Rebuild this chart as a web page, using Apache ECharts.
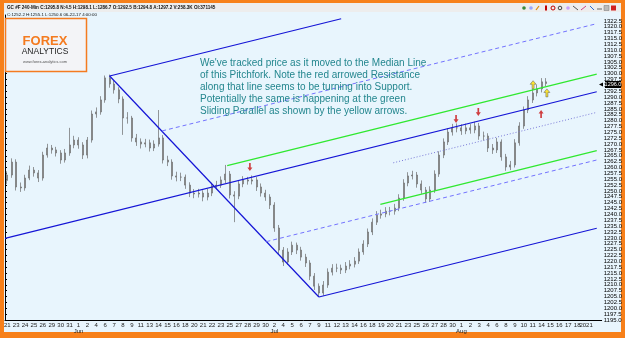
<!DOCTYPE html>
<html>
<head>
<meta charset="utf-8">
<script src="https://cdn.jsdelivr.net/npm/echarts@6/dist/echarts.min.js"></script>
<style>
  html, body { margin: 0; padding: 0; background: #f7801a; }
  #chart { width: 625px; height: 338px; }
</style>
</head>
<body>
<div id="chart"></div>
<script>
// trading-day labels on the x axis (two slots per day)
const dayLabels = ['21','23','24','25','26','29','30','31',
  '1','2','4','6','7','8','9','11','13','14','15','16','18','20','21','22','23','25','27','28','29','30',
  '2','4','5','6','7','9','11','12','13','14','16','18','19','20','21','23','25','26','27','28','30',
  '1','2','3','4','6','8','9','10','11','14','15','16','17','18','2021',''];
const monthMarks = { 8: 'Jun', 30: 'Jul', 51: 'Aug' };
const slotsPerDay = 2;

// price bars
const firstOpen = 1254.5;
const closes = [1256.8, 1262.3, 1251.7, 1251.3, 1255.5, 1258.9, 1257.7, 1255.5, 1265.3, 1268.3,
  1267.5, 1266.2, 1263.2, 1266.2, 1269.6, 1271.7, 1269.6, 1265.3, 1271.7, 1282.8,
  1283.7, 1288.8, 1298.2, 1295.6, 1293.1, 1289.2, 1281.1, 1281.1, 1272.6, 1270.9,
  1270.0, 1270.5, 1268.3, 1270.0, 1272.6, 1263.2, 1262.3, 1256.4, 1255.9, 1255.9,
  1252.5, 1249.1, 1248.7, 1249.1, 1247.4, 1249.1, 1252.1, 1252.5, 1254.7, 1257.2,
  1248.3, 1247.8, 1253.0, 1254.7, 1254.2, 1254.7, 1251.7, 1249.1, 1247.4, 1244.0,
  1234.2, 1224.8, 1219.7, 1224.0, 1226.9, 1224.8, 1221.8, 1219.3, 1213.7, 1209.4,
  1206.5, 1209.9, 1215.4, 1217.1, 1217.1, 1216.3, 1218.0, 1218.8, 1220.1, 1224.0,
  1227.4, 1232.5, 1236.7, 1239.7, 1240.2, 1241.4, 1241.4, 1242.7, 1247.0, 1253.4,
  1256.4, 1256.8, 1253.0, 1250.4, 1246.6, 1250.4, 1257.2, 1265.3, 1270.9, 1275.1,
  1276.9, 1276.9, 1275.6, 1276.9, 1276.0, 1277.7, 1273.4, 1273.4, 1268.3, 1267.5,
  1270.9, 1264.5, 1260.2, 1261.1, 1270.5, 1277.7, 1284.5, 1288.8, 1291.8, 1293.5,
  1296.5, 1295.8];
const highs = [1258.4, 1263.9, 1263.5, 1253.6, 1256.9, 1260.8, 1260.2, 1258.9, 1266.7, 1270.1,
  1269.6, 1268.8, 1267.4, 1267.9, 1276.9, 1273.5, 1272.9, 1270.8, 1273.0, 1284.3,
  1285.6, 1290.4, 1299.2, 1299.6, 1297.0, 1294.2, 1290.3, 1283.6, 1282.0, 1274.3,
  1272.4, 1272.2, 1271.9, 1271.6, 1284.5, 1273.8, 1265.0, 1263.5, 1258.2, 1257.8,
  1257.0, 1253.7, 1250.8, 1250.9, 1250.3, 1250.9, 1253.5, 1254.3, 1256.2, 1261.1,
  1258.5, 1249.9, 1254.6, 1256.3, 1256.0, 1256.6, 1255.9, 1253.2, 1250.5, 1248.6,
  1245.2, 1235.5, 1226.1, 1225.6, 1228.4, 1228.0, 1226.2, 1223.2, 1220.5, 1215.0,
  1210.6, 1211.6, 1217.0, 1218.8, 1219.0, 1218.6, 1219.7, 1220.5, 1221.8, 1225.5,
  1229.0, 1234.0, 1238.3, 1241.4, 1242.0, 1243.1, 1243.2, 1244.5, 1248.6, 1255.0,
  1258.0, 1258.6, 1258.1, 1254.5, 1251.7, 1252.0, 1258.8, 1266.9, 1272.4, 1276.8,
  1278.6, 1278.8, 1278.4, 1278.7, 1278.5, 1279.5, 1279.0, 1275.3, 1274.6, 1270.0,
  1272.6, 1272.0, 1265.8, 1262.8, 1272.1, 1279.3, 1286.0, 1290.4, 1293.5, 1295.4,
  1298.1, 1298.1];
const lows = [1252.9, 1255.6, 1250.2, 1249.6, 1250.1, 1254.6, 1256.1, 1253.8, 1254.4, 1264.2,
  1265.9, 1264.7, 1261.6, 1262.1, 1265.0, 1268.2, 1268.0, 1263.6, 1263.9, 1270.6,
  1281.2, 1282.5, 1287.6, 1294.0, 1291.5, 1287.4, 1273.9, 1278.7, 1271.0, 1269.2,
  1268.1, 1268.6, 1266.8, 1267.0, 1268.9, 1261.7, 1260.6, 1254.8, 1254.1, 1254.2,
  1250.9, 1247.4, 1246.9, 1247.2, 1245.6, 1246.0, 1247.8, 1250.7, 1251.3, 1253.4,
  1246.8, 1236.7, 1246.5, 1251.6, 1252.7, 1252.8, 1250.0, 1247.6, 1245.8, 1242.3,
  1232.6, 1222.9, 1218.0, 1218.5, 1222.7, 1223.1, 1220.3, 1217.6, 1212.0, 1207.8,
  1204.8, 1205.4, 1208.7, 1214.0, 1215.4, 1214.6, 1215.0, 1216.6, 1217.4, 1218.9,
  1222.8, 1226.1, 1231.2, 1235.5, 1238.2, 1238.8, 1239.6, 1239.9, 1241.4, 1245.8,
  1252.0, 1254.9, 1251.4, 1248.8, 1245.0, 1245.3, 1249.2, 1256.0, 1264.0, 1269.6,
  1273.6, 1275.0, 1273.9, 1274.2, 1274.4, 1274.6, 1271.8, 1271.5, 1266.6, 1265.8,
  1266.2, 1262.9, 1258.6, 1258.9, 1260.0, 1269.3, 1276.5, 1283.2, 1287.5, 1290.3,
  1292.0, 1294.7];

// pitchfork + sliding parallel, as [slot, price] end points
const bcLine      = [[23.5, 1299.0], [70.5, 1204.8]];
const upperTine   = [[23.5, 1299.0], [75.5, 1323.4]];
const medianLine  = [[0, 1229.8], [132.9, 1292.3]];
const lowerTine   = [[70.5, 1204.8], [132.9, 1234.1]];
const upperHalf   = [[35.3, 1275.6], [132.9, 1321.3]];
const lowerHalf   = [[58.7, 1228.4], [132.9, 1263.2]];
const greenUpper  = [[49.9, 1260.8], [132.9, 1299.8]];
const greenLower  = [[84.3, 1244.3], [132.9, 1267.2]];
const greenMid    = [[87.2, 1262.0], [132.9, 1283.5]];

const redDown  = [[55.0, 1258.5], [101.3, 1279.0], [106.3, 1282.0]];
const redUp    = [[120.4, 1284.5]];
const yellowUp = [[118.6, 1297.0], [121.7, 1293.5]];

const lastPrice = '1296.0';
const note = "We've tracked price as it moved to the Median Line\nof this Pitchfork. Note the red arrowed Resistance\nalong that line seems to be turning into Support.\nPotentially the same is happening at the green\nSliding Parallel as shown by the yellow arrows.";
const header1 = 'GC #F 240-Min C:1295.8 N:4.5 H:1298.1 L:1286.7 O:1292.5 B:1294.8 A:1297.2 V:258.3K OI:371145';
const header2 = 'C:1252.2 H:1255.1 L:1250.6 06-22-17 4:00:00';

const slotCount = dayLabels.length * slotsPerDay;
const slots = [];
for (let i = 0; i < slotCount; i++) slots.push(String(i));

const candles = closes.map((c, i) => {
  const o = i === 0 ? firstOpen : closes[i - 1];
  return [o, c, lows[i], highs[i]];
});

function seg(pts, color, type, width) {
  return {
    type: 'line', xAxisIndex: 1, data: pts, symbol: 'none', silent: true,
    lineStyle: { color: color, type: type, width: width }, z: 3
  };
}

const downArrow = 'path://M2,0 L4,0 L4,5 L6,5 L3,9 L0,5 L2,5 Z';
const upArrow = 'path://M3,0 L6,4 L4,4 L4,9 L2,9 L2,4 L0,4 Z';

const chart = echarts.init(document.getElementById('chart'));
chart.setOption({
  animation: false,
  backgroundColor: '#f7801a',
  grid: { left: 5, right: 21, top: 15, bottom: 18 },
  xAxis: [{
    type: 'category', data: slots, boundaryGap: true,
    axisLine: { lineStyle: { color: '#000', width: 1 } },
    axisTick: { interval: (i) => i % slotsPerDay === 0, length: 2, lineStyle: { color: '#000' } },
    axisLabel: {
      interval: (i) => i % slotsPerDay === 0,
      fontSize: 6, color: '#222', margin: 2, lineHeight: 6,
      fontFamily: 'Liberation Sans',
      formatter: (v) => {
        const d = Math.floor(+v / slotsPerDay);
        const m = monthMarks[d];
        return m ? dayLabels[d] + '\n' + m : dayLabels[d];
      }
    },
    splitLine: { show: false }
  }, {
    type: 'value', min: 0, max: slotCount, show: false
  }],
  yAxis: {
    type: 'value', position: 'right', min: 1195, max: 1325, interval: 2.5,
    axisLine: { show: true, lineStyle: { color: '#000' } },
    axisTick: { show: true, length: 2, lineStyle: { color: '#000' } },
    axisLabel: {
      fontSize: 6, color: '#000', margin: 2, fontFamily: 'Liberation Sans',
      showMaxLabel: false, formatter: (v) => v.toFixed(1)
    },
    splitLine: { show: false }
  },
  graphic: [
    { type: 'rect', z: -10, shape: { x: 4, y: 3, width: 617, height: 329 }, style: { fill: '#e8f5fd' } },
    { type: 'rect', z: -9, shape: { x: 4, y: 3, width: 617, height: 9 }, style: { fill: '#ededed' } },
    { type: 'text', z: 50, x: 7, y: 5, style: { text: header1, font: 'bold 4.6px "Liberation Sans"', fill: '#111' } },
    { type: 'text', z: 50, x: 7, y: 12.5, style: { text: header2, font: '4.4px "Liberation Sans"', fill: '#111' } },
    // logo
    { type: 'rect', z: 40, shape: { x: 5.5, y: 18.5, width: 81, height: 53 }, style: { fill: '#f3f4f7', stroke: '#f47b20', lineWidth: 1.5 } },
    { type: 'text', z: 41, x: 45, y: 35, style: { text: 'FOREX', font: 'bold 13px "Liberation Sans"', fill: '#f47b20', align: 'center' } },
    { type: 'text', z: 41, x: 45, y: 47.5, style: { text: 'ANALYTICS', font: '8.5px "Liberation Sans"', fill: '#1e1e1e', align: 'center' } },
    { type: 'text', z: 41, x: 45, y: 60, style: { text: 'www.forex-analytics.com', font: '4px "Liberation Sans"', fill: '#555', align: 'center' } },
    // note
    { type: 'text', z: 60, x: 200, y: 57, style: { text: note, font: '10px "Liberation Sans"', lineHeight: 12, fill: '#23868e' } },
    // last price tag
    { type: 'rect', z: 60, shape: { x: 605, y: 81, width: 16, height: 7 }, style: { fill: '#000' } },
    { type: 'text', z: 61, x: 613, y: 81.5, style: { text: lastPrice, font: '5.5px "Liberation Sans"', fill: '#fff', align: 'center' } },
    { type: 'polygon', z: 61, shape: { points: [[599, 84.5], [603, 82.5], [603, 86.5]] }, style: { fill: '#000' } },
    // toolbar icons
    { type: 'circle', z: 50, shape: { cx: 524, cy: 8, r: 1.8 }, style: { fill: '#3a8a3a' } },
    { type: 'circle', z: 50, shape: { cx: 531, cy: 8, r: 1.8 }, style: { fill: '#9aa6ff' } },
    { type: 'line', z: 50, shape: { x1: 536, y1: 10, x2: 539, y2: 6 }, style: { stroke: '#e08a00', lineWidth: 1.2 } },
    { type: 'rect', z: 50, shape: { x: 545, y: 5.5, width: 2, height: 5 }, style: { fill: '#c00000' } },
    { type: 'circle', z: 50, shape: { cx: 553, cy: 8, r: 2 }, style: { fill: 'none', stroke: '#c00000', lineWidth: 1 } },
    { type: 'circle', z: 50, shape: { cx: 560, cy: 8, r: 1.8 }, style: { fill: 'none', stroke: '#444', lineWidth: 1 } },
    { type: 'circle', z: 50, shape: { cx: 568, cy: 8, r: 1.8 }, style: { fill: '#c9a0ff' } },
    { type: 'line', z: 50, shape: { x1: 573, y1: 6, x2: 578, y2: 10 }, style: { stroke: '#555', lineWidth: 1 } },
    { type: 'line', z: 50, shape: { x1: 581, y1: 10, x2: 586, y2: 6 }, style: { stroke: '#d04080', lineWidth: 1 } },
    { type: 'line', z: 50, shape: { x1: 590, y1: 6, x2: 594, y2: 10 }, style: { stroke: '#2a6ad0', lineWidth: 1 } },
    { type: 'rect', z: 50, shape: { x: 597, y: 8.5, width: 5, height: 1 }, style: { fill: '#666' } },
    { type: 'rect', z: 50, shape: { x: 604, y: 5.5, width: 5, height: 5 }, style: { fill: '#bbb', stroke: '#777', lineWidth: 0.5 } },
    { type: 'rect', z: 50, shape: { x: 611, y: 5.5, width: 5, height: 5 }, style: { fill: '#d02020' } }
  ],
  series: [
    {
      type: 'candlestick', data: candles, barWidth: 1.5, silent: true, z: 2,
      itemStyle: { color: '#a8a8a8', color0: '#a8a8a8', borderColor: '#6a6a6a', borderColor0: '#6a6a6a', borderWidth: 0.7 }
    },
    seg(bcLine, '#1414d6', 'solid', 1.2),
    seg(upperTine, '#1414d6', 'solid', 1.2),
    seg(medianLine, '#1414d6', 'solid', 1.2),
    seg(lowerTine, '#1414d6', 'solid', 1.2),
    seg(upperHalf, '#7373ff', [4, 3], 1),
    seg(lowerHalf, '#7373ff', [4, 3], 1),
    seg(greenUpper, '#2fe82f', 'solid', 1.3),
    seg(greenLower, '#2fe82f', 'solid', 1.3),
    seg(greenMid, '#7a7ad8', [1, 2], 1),
    {
      type: 'scatter', xAxisIndex: 1, data: redDown, symbol: downArrow, symbolSize: [5, 8],
      symbolOffset: [0, -4], itemStyle: { color: '#c81010' }, z: 5, silent: true
    },
    {
      type: 'scatter', xAxisIndex: 1, data: redUp, symbol: upArrow, symbolSize: [5, 8],
      symbolOffset: [0, 4], itemStyle: { color: '#c81010' }, z: 5, silent: true
    },
    {
      type: 'scatter', xAxisIndex: 1, data: yellowUp, symbol: upArrow, symbolSize: [6, 8],
      symbolOffset: [0, 4], itemStyle: { color: '#ffe000', borderColor: '#555', borderWidth: 0.6 }, z: 5, silent: true
    }
  ]
});
</script>
</body>
</html>
